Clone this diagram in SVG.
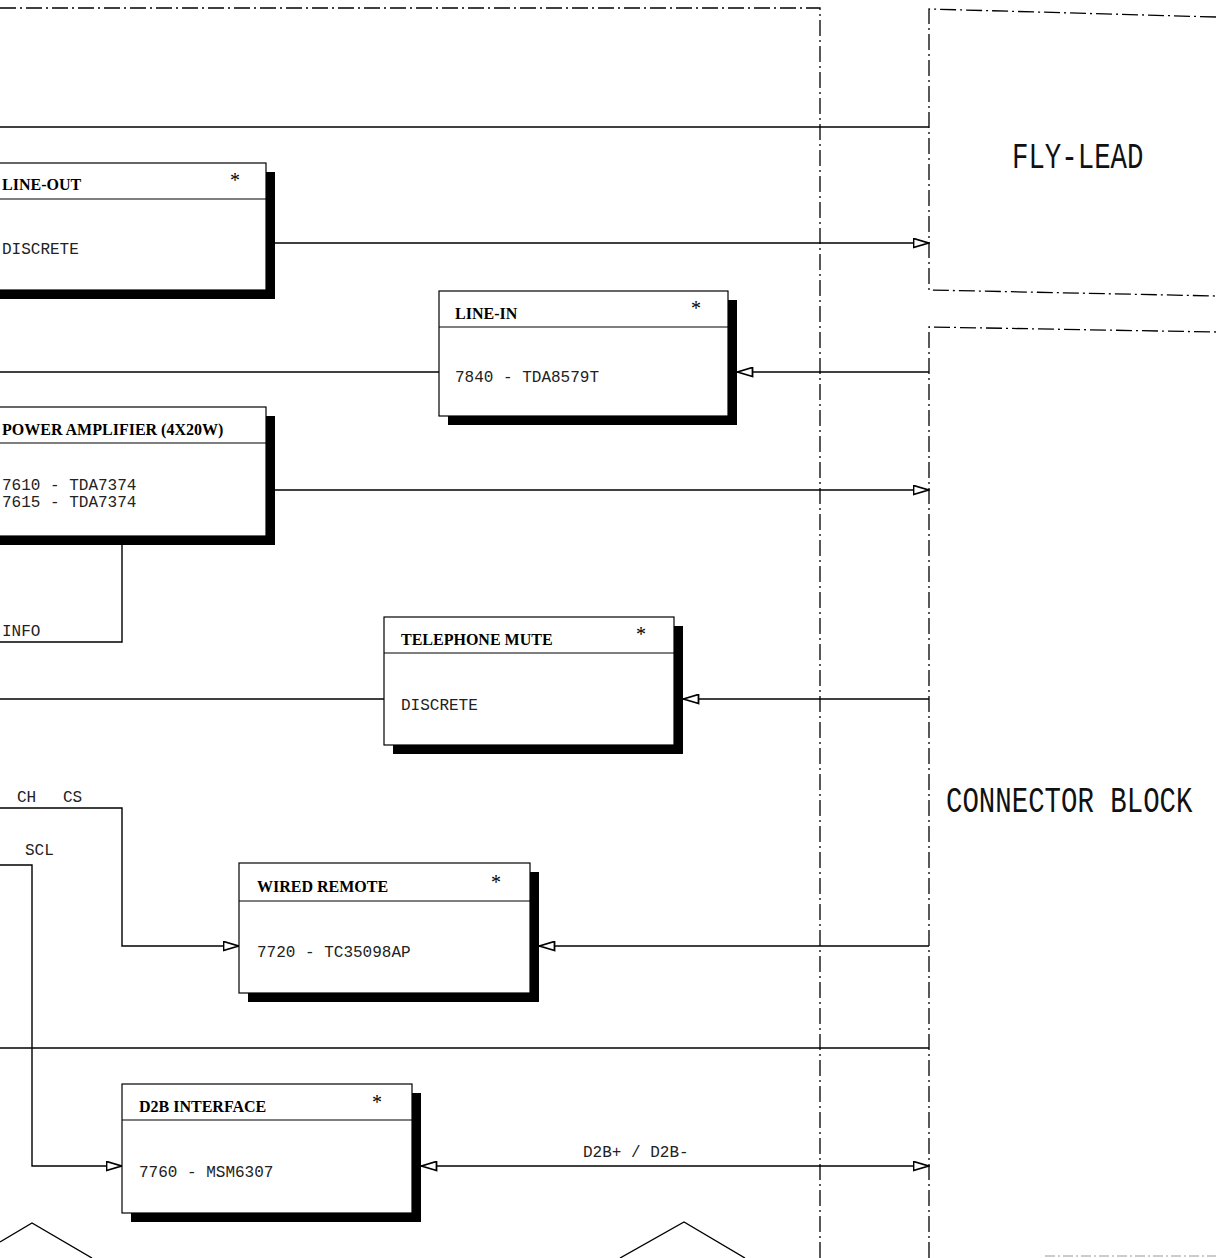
<svg xmlns="http://www.w3.org/2000/svg" width="1216" height="1258" viewBox="0 0 1216 1258">
<style>
.bg{fill:#ffffff}
.box{fill:#ffffff;stroke:#000;stroke-width:1.2}
.shadow{fill:#000}
.hdr{stroke:#000;stroke-width:1.2}
.title{font-family:"Liberation Serif","Times New Roman",serif;font-weight:bold;font-size:16px;fill:#000}
.star{font-family:"Liberation Serif","Times New Roman",serif;font-size:20px;fill:#000}
.mono{font-family:"Liberation Mono","Courier New",monospace;font-size:16px;fill:#222}
.big{font-family:"Liberation Mono","Courier New",monospace;font-size:27.4px;fill:#111}
.wire{fill:none;stroke:#000;stroke-width:1.4}
.dd{fill:none;stroke:#000;stroke-width:1.3;stroke-dasharray:16 4 2 4}
</style>
<defs>
<marker id="arr" viewBox="0 0 17 11" refX="16.5" refY="5.5" markerWidth="17" markerHeight="11" markerUnits="userSpaceOnUse" orient="auto-start-reverse">
<path d="M1,1 L16,5.5 L1,10 Z" fill="#fff" stroke="#000" stroke-width="1.8"/>
</marker>
</defs>
<rect class="bg" x="0" y="0" width="1216" height="1258"/>

<g id="frames">
<path class="dd" d="M0,8 H820 V1258"/>
<path class="dd" d="M929,1258 V327 L1216,332"/>
<line x1="1045" y1="1256" x2="1216" y2="1256" stroke="#999" stroke-width="1.2" stroke-dasharray="10 3 2 3"/>
</g>

<g id="fly-lead">
<path class="dd" d="M1216,17 L929,9 V290 L1216,296"/>
<text class="big" transform="translate(1012,168) scale(1,1.33)" x="0" y="0">FLY-LEAD</text>
</g>

<g id="connector-block">
<text class="big" transform="translate(946,812) scale(1,1.33)" x="0" y="0">CONNECTOR BLOCK</text>
</g>

<g id="connectors">
<line class="wire" x1="0" y1="127" x2="929" y2="127"/>
<line class="wire" x1="0" y1="1048" x2="929" y2="1048"/>
<line class="wire" x1="275" y1="243" x2="929" y2="243" marker-end="url(#arr)"/>
<line class="wire" x1="929" y1="372" x2="737" y2="372" marker-end="url(#arr)"/>
<line class="wire" x1="0" y1="372" x2="439" y2="372"/>
<line class="wire" x1="275" y1="490" x2="929" y2="490" marker-end="url(#arr)"/>
<path class="wire" d="M122,545 V642 H0"/>
<line class="wire" x1="0" y1="699" x2="384" y2="699"/>
<line class="wire" x1="929" y1="699" x2="683" y2="699" marker-end="url(#arr)"/>
<path class="wire" d="M0,808 H122 V946 H239" marker-end="url(#arr)"/>
<line class="wire" x1="929" y1="946" x2="539" y2="946" marker-end="url(#arr)"/>
<path class="wire" d="M0,865 H32 V1166 H122" marker-end="url(#arr)"/>
<line class="wire" x1="421" y1="1166" x2="929" y2="1166" marker-start="url(#arr)" marker-end="url(#arr)"/>
<polyline class="wire" points="0,1242 32,1223 92,1258"/>
<polyline class="wire" points="620,1258 684,1222 745,1258"/>
</g>

<g id="labels">
<text class="mono" x="2" y="636">INFO</text>
<text class="mono" x="17" y="802">CH</text>
<text class="mono" x="63" y="802">CS</text>
<text class="mono" x="25" y="855">SCL</text>
<text class="mono" x="583" y="1157">D2B+ / D2B-</text>
</g>

<g id="line-out">
<rect class="shadow" x="-11" y="172" width="286" height="127"/>
<rect class="box" x="-20" y="163" width="286" height="127"/>
<line class="hdr" x1="-20" y1="199" x2="266" y2="199"/>
<text class="title" x="2" y="190">LINE-OUT</text>
<text class="star" x="230" y="187">*</text>
<text class="mono" x="2" y="254">DISCRETE</text>
</g>

<g id="line-in">
<rect class="shadow" x="448" y="300" width="289" height="125"/>
<rect class="box" x="439" y="291" width="289" height="125"/>
<line class="hdr" x1="439" y1="327" x2="728" y2="327"/>
<text class="title" x="455" y="319">LINE-IN</text>
<text class="star" x="691" y="315">*</text>
<text class="mono" x="455" y="382">7840 - TDA8579T</text>
</g>

<g id="power-amplifier">
<rect class="shadow" x="-11" y="416" width="286" height="129"/>
<rect class="box" x="-20" y="407" width="286" height="129"/>
<line class="hdr" x1="-20" y1="443" x2="266" y2="443"/>
<text class="title" x="2" y="435">POWER AMPLIFIER (4X20W)</text>
<text class="mono" x="2" y="490">7610 - TDA7374</text>
<text class="mono" x="2" y="507">7615 - TDA7374</text>
</g>

<g id="telephone-mute">
<rect class="shadow" x="393" y="626" width="290" height="128"/>
<rect class="box" x="384" y="617" width="290" height="128"/>
<line class="hdr" x1="384" y1="653" x2="674" y2="653"/>
<text class="title" x="401" y="645">TELEPHONE MUTE</text>
<text class="star" x="636" y="641">*</text>
<text class="mono" x="401" y="710">DISCRETE</text>
</g>

<g id="wired-remote">
<rect class="shadow" x="248" y="872" width="291" height="130"/>
<rect class="box" x="239" y="863" width="291" height="130"/>
<line class="hdr" x1="239" y1="901" x2="530" y2="901"/>
<text class="title" x="257" y="892">WIRED REMOTE</text>
<text class="star" x="491" y="889">*</text>
<text class="mono" x="257" y="957">7720 - TC35098AP</text>
</g>

<g id="d2b-interface">
<rect class="shadow" x="131" y="1093" width="290" height="129"/>
<rect class="box" x="122" y="1084" width="290" height="129"/>
<line class="hdr" x1="122" y1="1120" x2="412" y2="1120"/>
<text class="title" x="139" y="1112">D2B INTERFACE</text>
<text class="star" x="372" y="1109">*</text>
<text class="mono" x="139" y="1177">7760 - MSM6307</text>
</g>
</svg>
